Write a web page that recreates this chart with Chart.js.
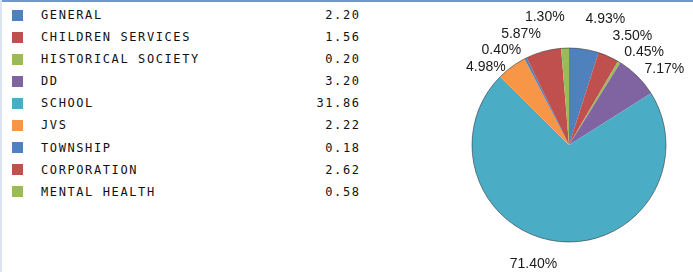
<!DOCTYPE html>
<html>
<head>
<meta charset="utf-8">
<script src="https://cdn.jsdelivr.net/npm/chart.js@4"></script>
<style>
  html, body { margin: 0; padding: 0; background: #fff; }
  #wrap { position: relative; width: 693px; height: 272px; overflow: hidden; background: #fff; }
  #topline { position: absolute; left: 0; top: 0; width: 693px; height: 2px; background: #7196cc; }
  #leftline { position: absolute; left: 0; top: 0; width: 2px; height: 272px; background: #dde4f1; }
  #legend { position: absolute; left: 0; top: 4px; width: 380px; font-family: "DejaVu Sans Mono", monospace; font-size: 12px; letter-spacing: 1.6px; color: #111; }
  .row { position: relative; height: 22.1px; }
  .sw { position: absolute; left: 12px; top: 5.5px; width: 11px; height: 11px; }
  .lab { position: absolute; left: 41px; top: 0; line-height: 22.1px; white-space: nowrap; }
  .val { position: absolute; right: 21px; top: 0; line-height: 22.1px; margin-right: -1.6px; white-space: nowrap; }
  #pieBox { position: absolute; left: 430px; top: 0; width: 263px; height: 272px; }
</style>
</head>
<body>
<div id="wrap">
  <div id="legend"></div>
  <div id="pieBox"><canvas id="c"></canvas></div>
  <div id="topline"></div>
  <div id="leftline"></div>
</div>
<script>
const categories = ['GENERAL', 'CHILDREN SERVICES', 'HISTORICAL SOCIETY', 'DD', 'SCHOOL', 'JVS', 'TOWNSHIP', 'CORPORATION', 'MENTAL HEALTH'];
const values = [2.20, 1.56, 0.20, 3.20, 31.86, 2.22, 0.18, 2.62, 0.58];
const colors = ['#4F81BD', '#C0504D', '#9BBB59', '#8064A2', '#4BACC6', '#F79646', '#4F81BD', '#C0504D', '#9BBB59'];

// HTML legend table built from the arrays
const legend = document.getElementById('legend');
categories.forEach((name, i) => {
  const row = document.createElement('div');
  row.className = 'row';
  const sw = document.createElement('div');
  sw.className = 'sw';
  sw.style.background = colors[i];
  const lab = document.createElement('div');
  lab.className = 'lab';
  lab.textContent = name;
  const val = document.createElement('div');
  val.className = 'val';
  val.textContent = values[i].toFixed(2);
  row.appendChild(sw); row.appendChild(lab); row.appendChild(val);
  legend.appendChild(row);
});

const total = values.reduce((a, b) => a + b, 0);

const outlinePlugin = {
  id: 'outline',
  afterDatasetsDraw(chart) {
    const meta = chart.getDatasetMeta(0);
    const a0 = meta.data[0];
    if (!a0) return;
    const ctx = chart.ctx;
    ctx.save();
    ctx.beginPath();
    ctx.arc(a0.x, a0.y, a0.outerRadius, 0, Math.PI * 2);
    ctx.strokeStyle = 'rgba(50,50,50,0.8)';
    ctx.lineWidth = 0.7;
    ctx.stroke();
    ctx.restore();
  }
};

const labelPlugin = {
  id: 'pctLabels',
  afterDraw(chart) {
    const meta = chart.getDatasetMeta(0);
    const ctx = chart.ctx;
    const gap = 16.7, minY = 17, off = 10;
    const items = meta.data.map((arc, i) => {
      const mid = (arc.startAngle + arc.endAngle) / 2;
      const r = arc.outerRadius + off;
      const x = arc.x + Math.cos(mid) * r;
      let y = arc.y + Math.sin(mid) * r;
      const s = Math.sin(mid);
      if (s > 0) y += s * 13;
      return { x, y, right: Math.cos(mid) >= 0, text: (values[i] / total * 100).toFixed(2) + '%' };
    });
    [true, false].forEach(side => {
      const g = items.filter(it => it.right === side).sort((p, q) => p.y - q.y);
      for (let i = g.length - 2; i >= 0; i--) g[i].y = Math.min(g[i].y, g[i + 1].y - gap);
      if (g.length) g[0].y = Math.max(g[0].y, minY);
      for (let i = 1; i < g.length; i++) g[i].y = Math.max(g[i].y, g[i - 1].y + gap);
    });
    ctx.save();
    ctx.font = '14px "Liberation Sans", Arial, sans-serif';
    ctx.fillStyle = '#1a1a1a';
    ctx.textBaseline = 'middle';
    items.forEach(it => {
      ctx.textAlign = it.right ? 'left' : 'right';
      ctx.fillText(it.text, it.x, it.y);
    });
    ctx.restore();
  }
};

new Chart(document.getElementById('c'), {
  type: 'pie',
  data: {
    labels: categories,
    datasets: [{
      data: values,
      backgroundColor: colors,
      borderWidth: 0
    }]
  },
  options: {
    responsive: true,
    maintainAspectRatio: false,
    animation: false,
    layout: { padding: { left: 42, right: 27, top: 48, bottom: 30 } },
    plugins: {
      legend: { display: false },
      tooltip: { enabled: false }
    }
  },
  plugins: [outlinePlugin, labelPlugin]
});
</script>
</body>
</html>
